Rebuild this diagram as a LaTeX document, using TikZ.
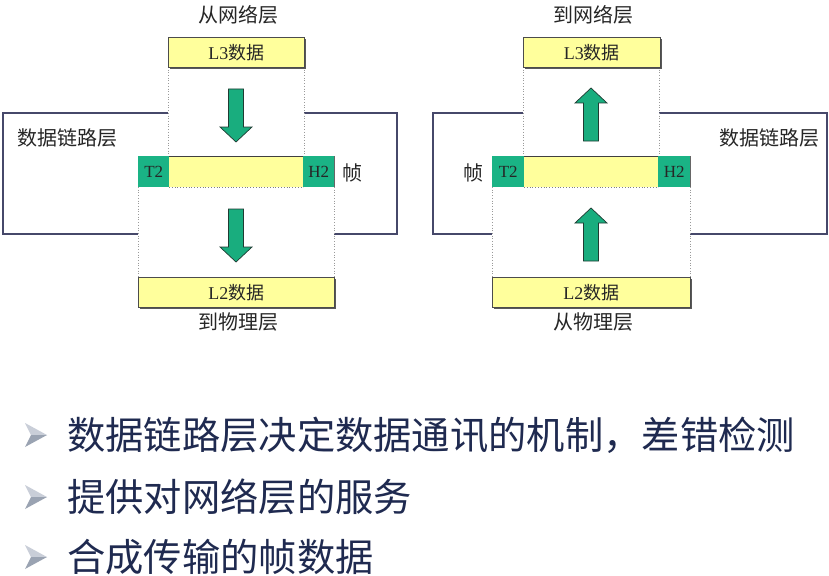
\documentclass[tikz,border=0pt]{standalone}
\usepackage{fontspec}
\setmainfont{Liberation Serif}
\newfontfamily\cjk{Noto Sans CJK SC}
\usetikzlibrary{shadows}
\definecolor{boxyellow}{HTML}{FFFF9C}
\definecolor{hdrgreen}{HTML}{1AB385}
\definecolor{arrowgreen}{HTML}{19AD7E}
\definecolor{arrowedge}{HTML}{1F3B32}
\definecolor{outeredge}{HTML}{46486A}
\definecolor{dotgray}{HTML}{9A9A9A}
\definecolor{bulletnavy}{HTML}{1F2A50}
\definecolor{bulletlight}{HTML}{C9CED8}
\definecolor{bulletdark}{HTML}{9AA3B2}
\begin{document}
\begin{tikzpicture}[x=1pt,y=-1pt,
  outerbox/.style={draw=outeredge, line width=1.8pt, fill=white, inner sep=0, anchor=north west},
  column/.style={fill=white, inner sep=0, anchor=north west},
  dotside/.style={draw=dotgray, dotted, line width=0.7pt},
  databox/.style={fill=boxyellow, draw=black!70, line width=0.6pt, inner sep=0, anchor=north west,
    minimum height=30pt, drop shadow={shadow xshift=1.6pt, shadow yshift=-1.6pt, fill=black!65, opacity=1}},
  hdrbox/.style={fill=hdrgreen, inner sep=0, anchor=north west, minimum width=31pt, minimum height=31pt,
    font=\fontsize{17}{17}\selectfont, text=black!85},
  midbox/.style={fill=boxyellow, inner sep=0, anchor=north west, minimum height=31pt},
  lbl/.style={font=\cjk\fontsize{20}{20}\selectfont, text=black!85, inner sep=0},
  boxtext/.style={font=\fontsize{18}{18}\selectfont, text=black!85},
  arrowst/.style={fill=arrowgreen, draw=arrowedge, line width=0.7pt, line join=miter},
  blkarrow/.pic={\path[arrowst] (-7.5,0) -- (7.5,0) -- (7.5,38) -- (16,38) -- (0,53) -- (-16,38) -- (-7.5,38) -- cycle;},
  bullet/.style={font=\cjk\fontsize{38.3}{39}\selectfont, text=bulletnavy, inner sep=0, anchor=west},
  bulletmark/.pic={\fill[bulletlight] (-11,-12) -- (11,0) -- (-5,0) -- cycle;
                   \fill[bulletdark] (-11,12) -- (11,0) -- (-5,0) -- cycle;}
]
\useasboundingbox[fill=white] (0,0) rectangle (829,575);

% ================= LEFT DIAGRAM =================
\node[outerbox, minimum width=394pt, minimum height=121pt] (dllL) at (2,112) {};
\node[column, minimum width=136pt, minimum height=89pt] (colUL) at (168,67) {};
\node[column, minimum width=196pt, minimum height=90pt] (colDL) at (138,187) {};
\draw[dotside] (colUL.north west) -- (colUL.south west);
\draw[dotside] (colUL.north east) -- (colUL.south east);
\draw[dotside] (colDL.north west) -- (colDL.south west);
\draw[dotside] (colDL.north east) -- (colDL.south east);

\node[databox, minimum width=136pt] (l3L) at (168,37) {};
\node[boxtext] at (l3L.center) {L3{\cjk 数据}};
\node[databox, minimum width=196pt] (l2L) at (138,277) {};
\node[boxtext] at (l2L.center) {L2{\cjk 数据}};

\node[hdrbox] (t2L) at (138,156) {T2};
\node[midbox, minimum width=134pt] (midL) at (169,156) {};
\node[hdrbox] (h2L) at (303,156) {H2};
\draw[black!75, line width=1pt] (midL.north west) -- (midL.north east);
\draw[black!50, dotted, line width=0.8pt] (midL.south west) -- (midL.south east);
\draw[black!60, line width=0.8pt] (h2L.north east) -- (h2L.south east);

\pic at (236,89) {blkarrow};
\pic at (236,209) {blkarrow};

\node[lbl] (fromNetL) at (238,15) {从网络层};
\node[lbl] (toPhyL) at (238,322) {到物理层};
\node[lbl] (dllLabelL) at (67,138) {数据链路层};
\node[lbl] (frameL) at (352,173) {帧};

% ================= RIGHT DIAGRAM =================
\node[outerbox, minimum width=394pt, minimum height=121pt] (dllR) at (432,112) {};
\node[column, minimum width=136pt, minimum height=89pt] (colUR) at (523,67) {};
\node[column, minimum width=198pt, minimum height=90pt] (colDR) at (492,187) {};
\draw[dotside] (colUR.north west) -- (colUR.south west);
\draw[dotside] (colUR.north east) -- (colUR.south east);
\draw[dotside] (colDR.north west) -- (colDR.south west);
\draw[dotside] (colDR.north east) -- (colDR.south east);

\node[databox, minimum width=137pt] (l3R) at (523,37) {};
\node[boxtext] at (l3R.center) {L3{\cjk 数据}};
\node[databox, minimum width=198pt] (l2R) at (492,277) {};
\node[boxtext] at (l2R.center) {L2{\cjk 数据}};

\node[hdrbox, minimum width=32pt] (t2R) at (492,156) {T2};
\node[midbox, minimum width=134pt] (midR) at (524,156) {};
\node[hdrbox, minimum width=32pt] (h2R) at (658,156) {H2};
\draw[black!75, line width=1pt] (midR.north west) -- (midR.north east);
\draw[black!50, dotted, line width=0.8pt] (midR.south west) -- (midR.south east);
\draw[black!60, line width=0.8pt] (h2R.north east) -- (h2R.south east);

\pic[yscale=-1] at (591,141) {blkarrow};
\pic[yscale=-1] at (591,261) {blkarrow};

\node[lbl] (toNetR) at (593,15) {到网络层};
\node[lbl] (fromPhyR) at (593,322) {从物理层};
\node[lbl] (dllLabelR) at (769,138) {数据链路层};
\node[lbl] (frameR) at (473,173) {帧};

% ================= BULLETS =================
\pic at (36,435) {bulletmark};
\node[bullet] (b1) at (67,435) {数据链路层决定数据通讯的机制，差错检测};
\pic at (36,497) {bulletmark};
\node[bullet] (b2) at (67,497) {提供对网络层的服务};
\pic at (36,557) {bulletmark};
\node[bullet] (b3) at (67,557) {合成传输的帧数据};
\end{tikzpicture}
\end{document}
